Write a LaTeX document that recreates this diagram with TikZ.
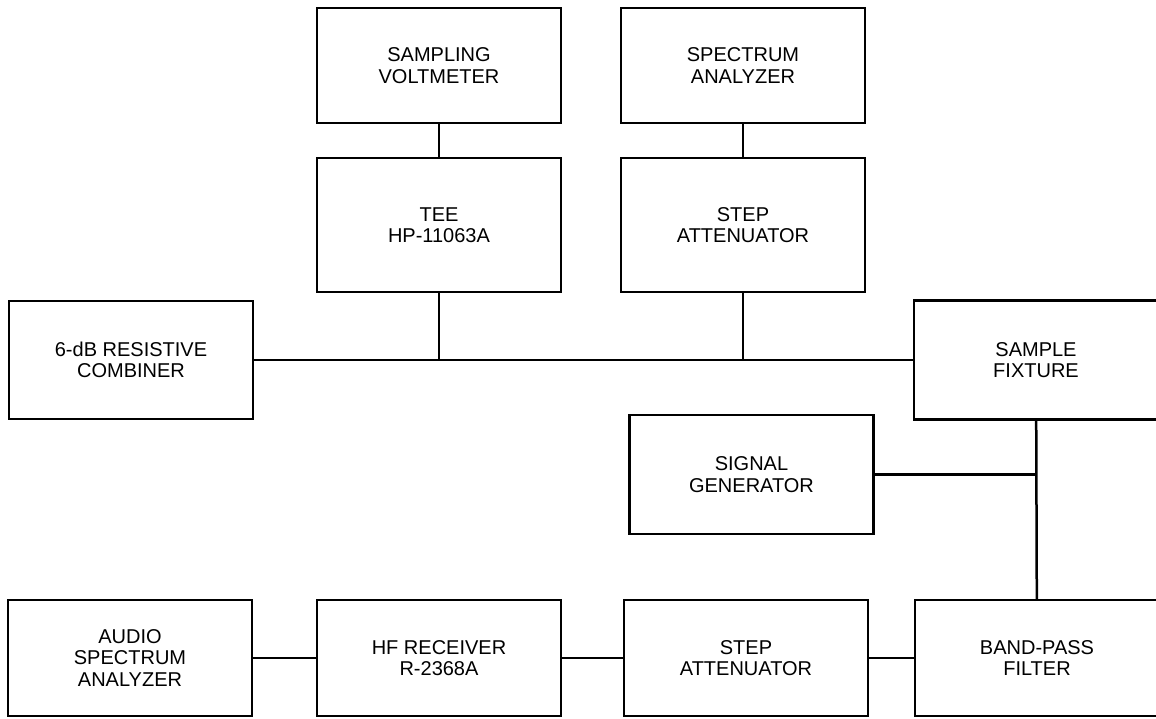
\documentclass[tikz,border=0pt]{standalone}
\usepackage{fontspec}
\setmainfont{Liberation Sans}
\usetikzlibrary{positioning}

\begin{document}
\begin{tikzpicture}[
  x=1pt, y=-1pt,
  line width=2.5pt,
  font=\fontsize{20}{21.5}\selectfont,
  unit/.style={draw, rectangle, inner sep=0pt, outer sep=0pt, minimum width=244pt, minimum height=116pt, align=center},
  tall/.style={unit, minimum height=134pt},
  mid/.style={unit, minimum height=119pt}
]
  \useasboundingbox (0,0) rectangle (1156,718);

  % Top columns: measuring instruments
  \node[unit, minimum height=115pt] (sampvm) at (439,65.5) {SAMPLING\\VOLTMETER};
  \node[tall, below=35pt of sampvm] (tee) {TEE\\HP-11063A};
  \node[tall, right=60pt of tee] (stepatt) {STEP\\ATTENUATOR};
  \node[unit, minimum height=115pt, above=35pt of stepatt] (specan) {SPECTRUM\\ANALYZER};

  % Middle row: combiner, fixture and generator
  \node[mid, minimum height=118pt] (combiner) at (131,360) {6-dB RESISTIVE\\COMBINER};
  \node[mid] (fixture) at (1036,360) {SAMPLE\\FIXTURE};
  \node[mid] (siggen) at (751.5,474.5) {SIGNAL\\GENERATOR};

  % Bottom row: receiving chain
  \node[unit] (audio) at (130,658) {AUDIO\\SPECTRUM\\ANALYZER};
  \node[unit, right=65pt of audio] (hfrx) {HF RECEIVER\\R-2368A};
  \node[unit, right=63pt of hfrx] (rxatt) {STEP\\ATTENUATOR};
  \node[unit, right=47pt of rxatt] (bpf) {BAND-PASS\\FILTER};

  % Connections
  \draw (sampvm) -- (tee);
  \draw (specan) -- (stepatt);
  \draw (combiner) -- (fixture);
  \draw (tee) -- (tee |- combiner);
  \draw (stepatt) -- (stepatt |- combiner);
  \draw (fixture) -- (bpf);
  \draw (siggen) -- (siggen -| fixture.south);
  \draw (audio) -- (hfrx);
  \draw (hfrx) -- (rxatt);
  \draw (rxatt) -- (bpf);

\end{tikzpicture}
\end{document}
